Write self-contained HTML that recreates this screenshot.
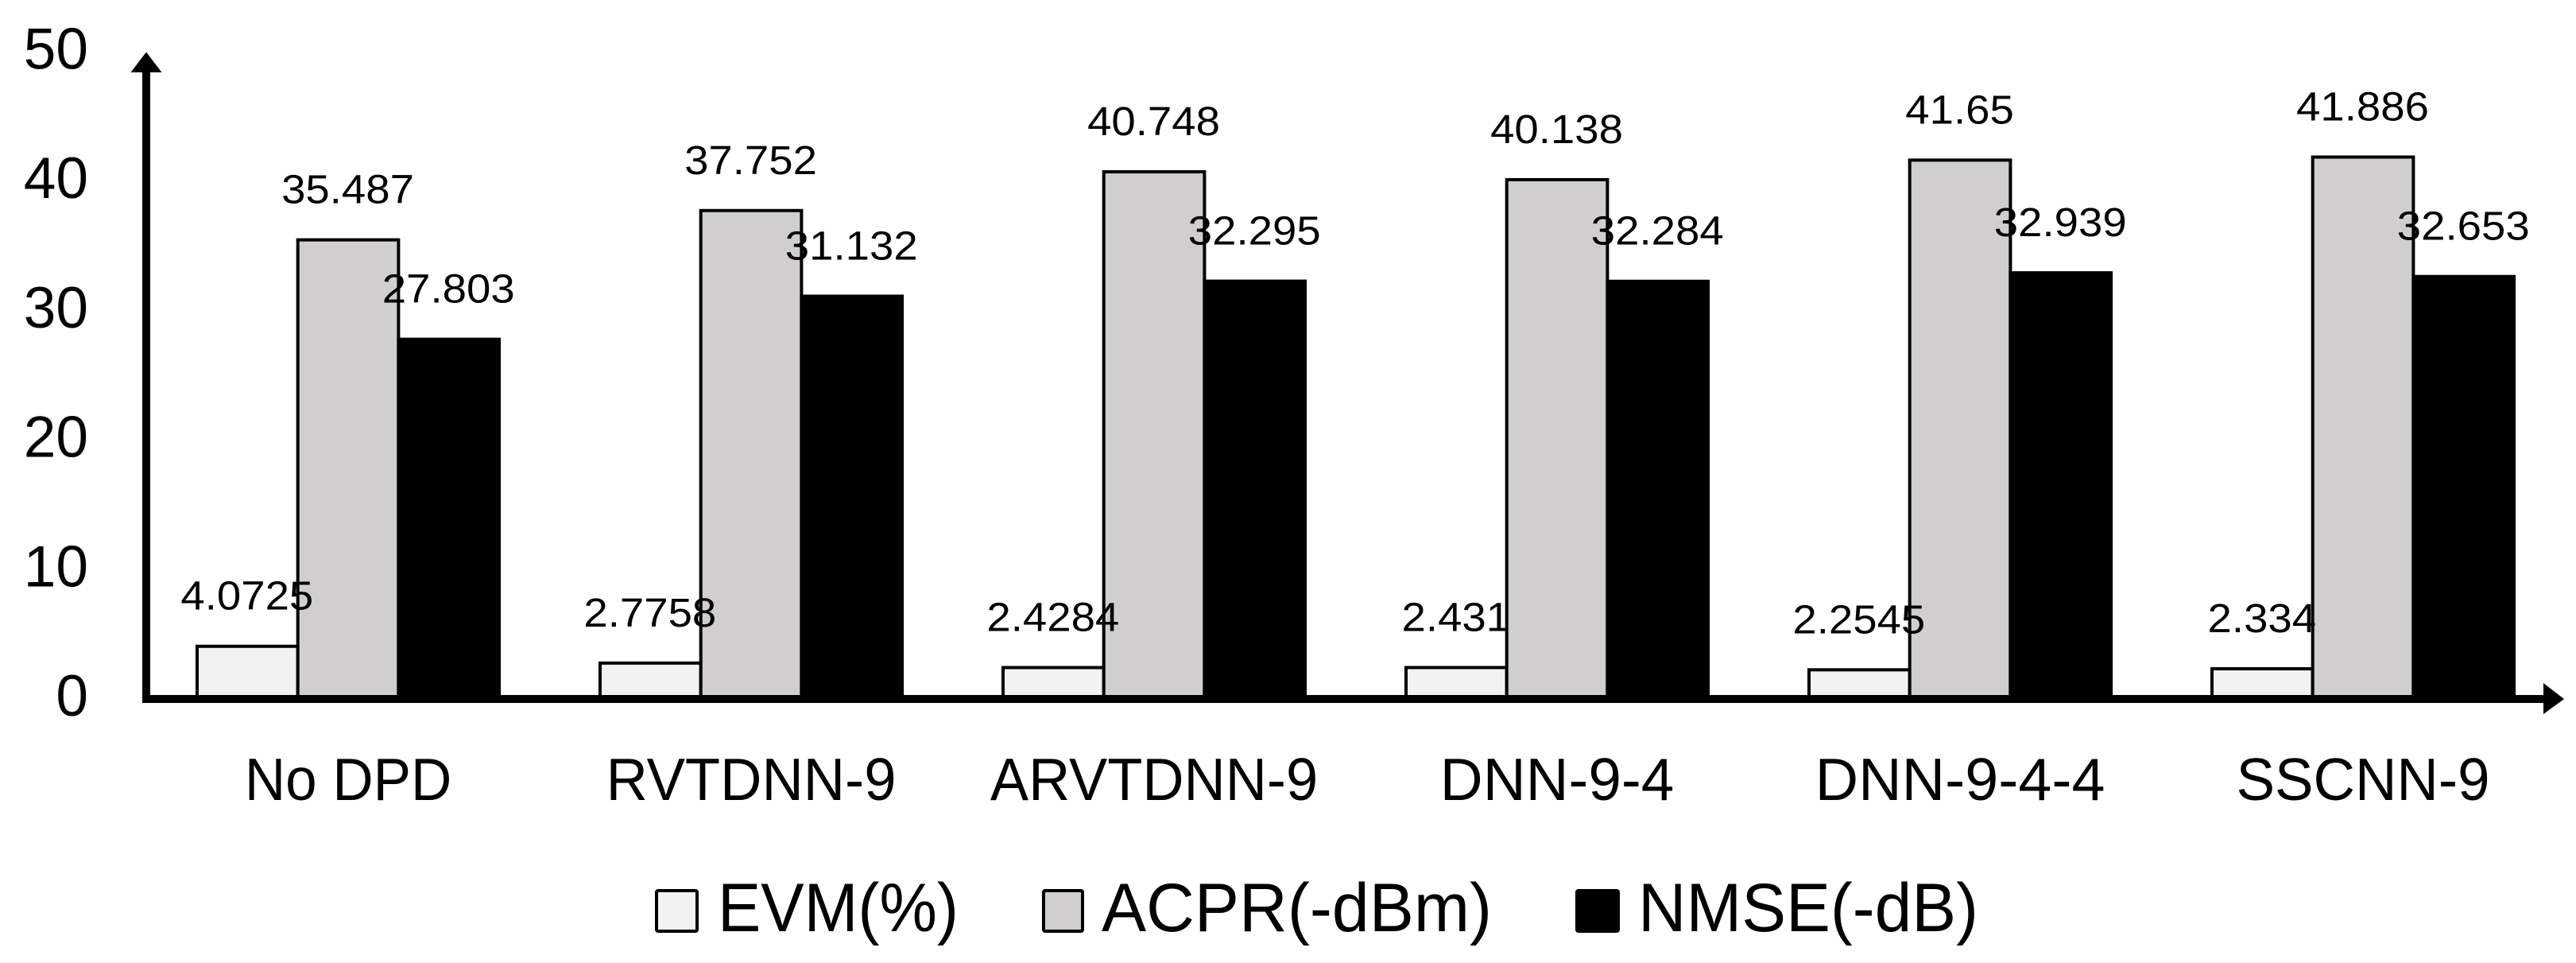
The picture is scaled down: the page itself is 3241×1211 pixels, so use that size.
<!DOCTYPE html>
<html lang="en">
<head>
<meta charset="utf-8">
<title>DPD comparison bar chart</title>
<style>
html,body{margin:0;padding:0;background:#fff;}
svg{display:block;}
text{font-family:"Liberation Sans",sans-serif;fill:#000;}
</style>
</head>
<body>
<svg id="chart" xmlns="http://www.w3.org/2000/svg" width="3241" height="1211" viewBox="0 0 3241 1211">
  <g id="bars"></g>
  <g id="labels"></g>
  <g id="y-ticks"></g>
  <g id="x-ticks"></g>
  <rect x="179" y="85" width="10" height="799" fill="#000"/>
  <polygon points="184,65.5 203.5,91 164.5,91" fill="#000"/>
  <rect x="179" y="874" width="3026" height="10" fill="#000"/>
  <polygon points="3226,879 3200,859 3200,898" fill="#000"/>
  <g>
    <g>
      <rect x="826" y="1120" width="51" height="51" rx="2" fill="#f2f2f2" stroke="#000" stroke-width="4"/>
      <text x="903" y="1171" font-size="86" textLength="303" lengthAdjust="spacingAndGlyphs">EVM(%)</text>
    </g>
    <g>
      <rect x="1313" y="1120" width="49" height="51" rx="2" fill="#d0cece" stroke="#000" stroke-width="4"/>
      <text x="1386" y="1171" font-size="86" textLength="491" lengthAdjust="spacingAndGlyphs">ACPR(-dBm)</text>
    </g>
    <g>
      <rect x="1984" y="1120" width="52" height="51" rx="2" fill="#000" stroke="#000" stroke-width="4"/>
      <text x="2061" y="1171" font-size="86" textLength="428" lengthAdjust="spacingAndGlyphs">NMSE(-dB)</text>
    </g>
  </g>
</svg>
<script>
const categories = ["No DPD", "RVTDNN-9", "ARVTDNN-9", "DNN-9-4", "DNN-9-4-4", "SSCNN-9"];
const evmValues = [4.0725, 2.7758, 2.4284, 2.431, 2.2545, 2.334];
const acprValues = [35.487, 37.752, 40.748, 40.138, 41.65, 41.886];
const nmseValues = [27.803, 31.132, 32.295, 32.284, 32.939, 32.653];
const yTicks = [0, 10, 20, 30, 40, 50];

const NS = "http://www.w3.org/2000/svg";
const Y0 = 879, PX_PER_UNIT = 16.27;
const GROUP_X0 = 248, GROUP_STEP = 507, BAR_W = 126.7;
const VALUE_FONT = 51, VALUE_STRETCH = 1.07;
const CAT_FONT = 75, CAT_SHRINK = 71 / 75, CAT_EXTRA_PER_NONLETTER = 3.6;

function yScale(v) { return Y0 - v * PX_PER_UNIT; }
function xBar(groupIndex, seriesIndex) { return GROUP_X0 + groupIndex * GROUP_STEP + seriesIndex * BAR_W; }

const seriesList = [
  { key: "evm", values: evmValues, fill: "#f2f2f2" },
  { key: "acpr", values: acprValues, fill: "#d0cece" },
  { key: "nmse", values: nmseValues, fill: "#000000" }
];

const barsG = document.getElementById("bars");
const labelsG = document.getElementById("labels");
const yG = document.getElementById("y-ticks");
const xG = document.getElementById("x-ticks");

seriesList.forEach(function (s, si) {
  s.values.forEach(function (v, i) {
    const r = document.createElementNS(NS, "rect");
    r.setAttribute("x", xBar(i, si));
    r.setAttribute("y", yScale(v));
    r.setAttribute("width", BAR_W);
    r.setAttribute("height", Y0 - yScale(v));
    r.setAttribute("fill", s.fill);
    r.setAttribute("stroke", "#000");
    r.setAttribute("stroke-width", "4");
    
    
    barsG.appendChild(r);

    const t = document.createElementNS(NS, "text");
    t.setAttribute("x", xBar(i, si) + BAR_W / 2 - 0.5);
    t.setAttribute("y", yScale(v) - 46);
    t.setAttribute("text-anchor", "middle");
    t.setAttribute("font-size", VALUE_FONT);
    t.textContent = String(v);
    
    
    labelsG.appendChild(t);
    t.setAttribute("textLength", t.getComputedTextLength() * VALUE_STRETCH);
    t.setAttribute("lengthAdjust", "spacingAndGlyphs");
  });
});

yTicks.forEach(function (tick) {
  const t = document.createElementNS(NS, "text");
  t.setAttribute("x", 111);
  t.setAttribute("y", yScale(tick) + 21);
  t.setAttribute("text-anchor", "end");
  t.setAttribute("font-size", "73");
  t.textContent = String(tick);
  
  
  yG.appendChild(t);
});

categories.forEach(function (c, i) {
  const t = document.createElementNS(NS, "text");
  t.setAttribute("x", xBar(i, 1) + BAR_W / 2);
  t.setAttribute("y", 1006);
  t.setAttribute("text-anchor", "middle");
  t.setAttribute("font-size", CAT_FONT);
  t.textContent = c;
  
  
  xG.appendChild(t);
  const nonLetters = (c.match(/[-0-9]/g) || []).length;
  t.setAttribute("textLength", t.getComputedTextLength() * CAT_SHRINK + nonLetters * CAT_EXTRA_PER_NONLETTER);
  t.setAttribute("lengthAdjust", "spacingAndGlyphs");
});
</script>
</body>
</html>
